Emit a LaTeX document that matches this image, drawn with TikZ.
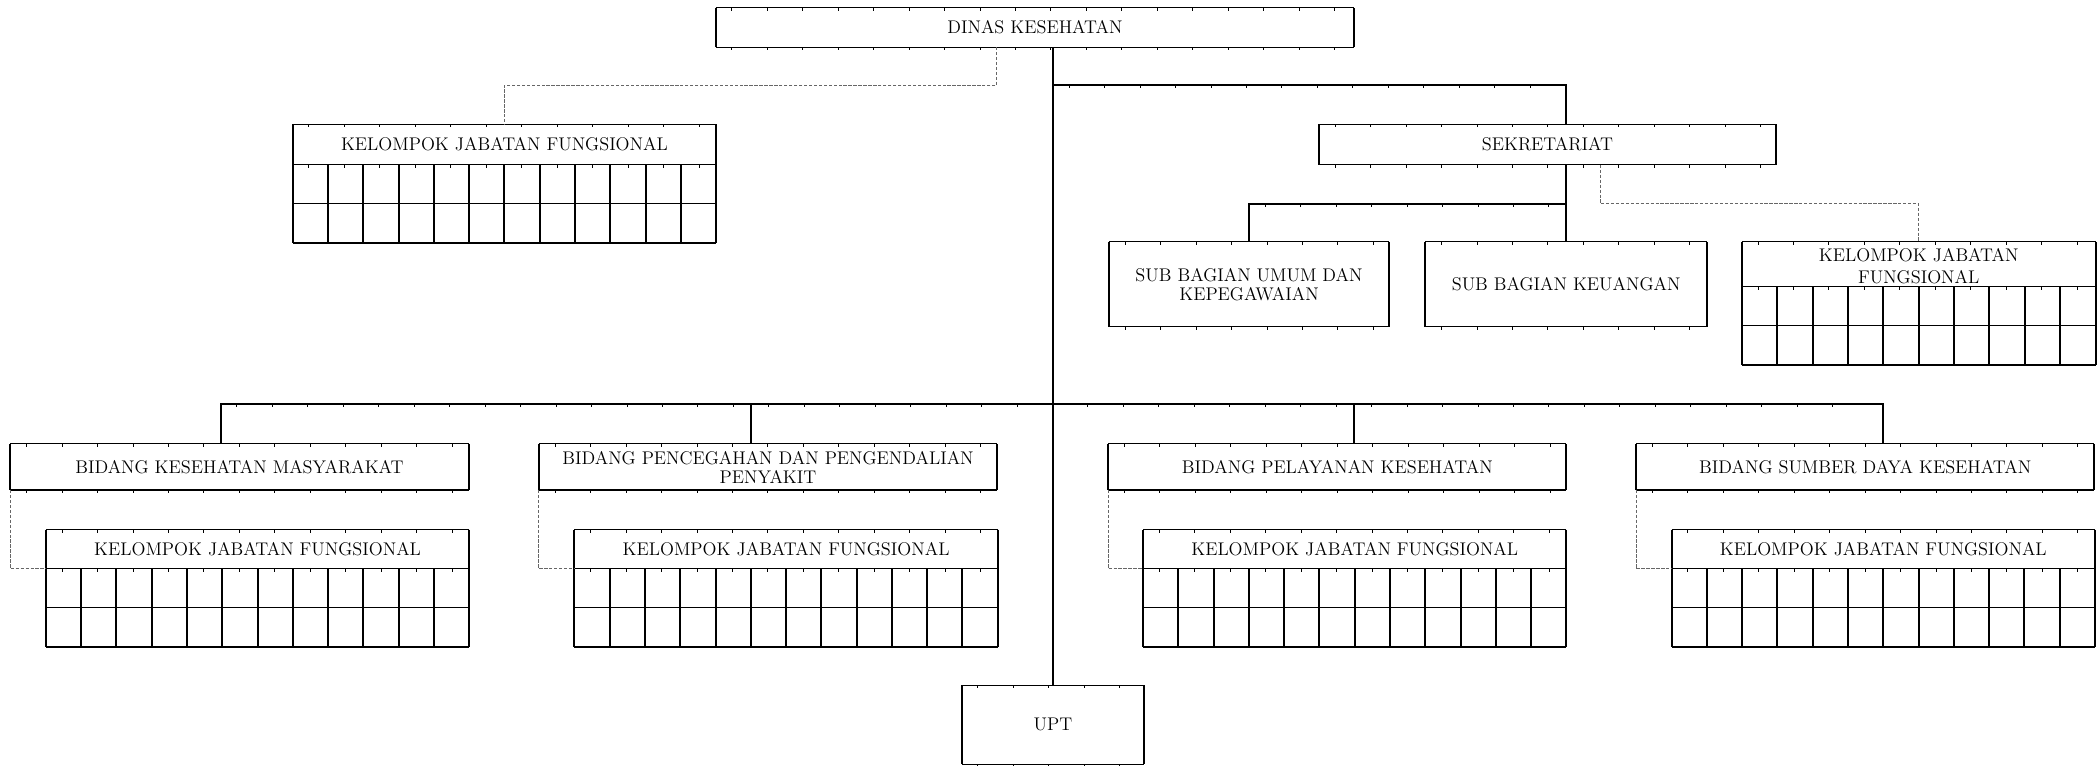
\documentclass[tikz,border=0pt]{standalone}
\usetikzlibrary{calc,decorations.markings}
\begin{document}
\begin{tikzpicture}[x=1pt,y=-1pt,
  txt/.style={font=\fontsize{13.7}{14.2}\selectfont},
  ticks/.style={postaction={decorate},
    decoration={markings, mark=between positions 12pt and -4pt step 26.5pt with {\draw[line width=0.5pt] (0,0) -- (0,-2.2pt);}}},
  hedge/.style={line width=0.8pt, ticks},
  vedge/.style={line width=1.5pt},
  box/.style={rectangle, inner sep=0pt, align=center, txt,
    append after command={\pgfextra{\let\orgbox\tikzlastnode}
      (\orgbox.north west) edge[hedge] (\orgbox.north east)
      (\orgbox.south west) edge[hedge] (\orgbox.south east)
      (\orgbox.north west) edge[vedge] (\orgbox.south west)
      (\orgbox.north east) edge[vedge] (\orgbox.south east)}},
  link/.style={line width=1.5pt},
  aux/.style={draw=black!60, line width=0.8pt, dash pattern=on 2.5pt off 1.2pt},
  cellv/.style={line width=1.5pt},
  cellh/.style={line width=1.1pt},
]
\useasboundingbox (0,0) rectangle (1568,572);

% head office and its staff group
\node[box, minimum width=477pt, minimum height=29pt] (dinas) at (773.5,20.5) {DINAS KESEHATAN};
\node[box, minimum width=316pt, minimum height=30pt] (kjfa) at (377,108) {KELOMPOK JABATAN FUNGSIONAL};

% secretariat branch
\node[box, minimum width=341pt, minimum height=30pt] (sek) at (1156.5,108) {SEKRETARIAT};
\node[box, minimum width=209pt, minimum height=63pt] (umum) at (933.5,212.5) {SUB BAGIAN UMUM DAN\\KEPEGAWAIAN};
\node[box, minimum width=210pt, minimum height=63pt] (keu) at (1170.5,212.5) {SUB BAGIAN KEUANGAN};
\node[box, minimum width=264pt, minimum height=33pt,
  label={[name=kjfbtext, txt, font=\fontsize{13.7}{16.2}\selectfont, align=center, inner sep=0pt, yshift=-1.5pt]center:{KELOMPOK JABATAN\\FUNGSIONAL}}]
  (kjfb) at (1434,197.5) {};

% departments
\node[box, minimum width=342pt, minimum height=34pt] (bkm) at (179,349) {BIDANG KESEHATAN MASYARAKAT};
\node[box, minimum width=342pt, minimum height=34pt] (bp2p) at (574,349) {BIDANG PENCEGAHAN DAN PENGENDALIAN\\PENYAKIT};
\node[box, minimum width=342pt, minimum height=34pt] (bpel) at (999.5,349) {BIDANG PELAYANAN KESEHATAN};
\node[box, minimum width=342pt, minimum height=34pt] (bsdk) at (1394,349) {BIDANG SUMBER DAYA KESEHATAN};

% functional groups under the departments
\node[box, minimum width=316pt, minimum height=29pt] (kkm) at (192.5,410.5) {KELOMPOK JABATAN FUNGSIONAL};
\node[box, minimum width=316pt, minimum height=29pt] (kp2p) at (587.5,410.5) {KELOMPOK JABATAN FUNGSIONAL};
\node[box, minimum width=316pt, minimum height=29pt] (kpel) at (1012.5,410.5) {KELOMPOK JABATAN FUNGSIONAL};
\node[box, minimum width=316pt, minimum height=29pt] (ksdk) at (1407.5,410.5) {KELOMPOK JABATAN FUNGSIONAL};

% technical unit
\node[box, minimum width=136pt, minimum height=58.5pt] (upt) at (787,541.75) {UPT};

% two rows of empty cells below each functional group
\foreach \k/\n in {kjfa/12,kjfb/10,kkm/12,kp2p/12,kpel/12,ksdk/12}{
  \draw[cellh] ($(\k.south west)+(0,29)$) -- ($(\k.south east)+(0,29)$);
  \draw[cellh] ($(\k.south west)+(0,58.5)$) -- ($(\k.south east)+(0,58.5)$);
  \foreach \i in {0,...,\n}
    \draw[cellv] ($(\k.south west)!\i/\n!(\k.south east)$) -- ++(0,58.5);
}

% line of command
\draw[link] (dinas.south -| upt.north) -- (upt.north);
\draw[link] (dinas.south -| upt.north) ++(0,28.5) coordinate (j1) -| (sek.north -| keu.north);
\draw[link] (sek.south -| keu.north) -- (keu.north);
\draw[link] (sek.south -| keu.north) ++(0,29) coordinate (j2) -| (umum.north);
\draw[link] ([xshift=-14pt]bkm.north) -- ++(0,-30) coordinate (j3) -| ([xshift=13pt]bsdk.north);
\draw[link] ([xshift=-13pt]bp2p.north) -- ++(0,-30);
\draw[link] ([xshift=12.5pt]bpel.north) -- ++(0,-30);
\path[ticks] (j1) -- (j1 -| keu.north);
\path[ticks] (j2 -| umum.north) -- (j2);
\path[ticks] (j3) -- (j3 -| bsdk.north);

% line of coordination
\draw[aux] ([xshift=-28.5pt]dinas.south) -- ++(0,28.5) -| (kjfa.north);
\draw[aux] ([xshift=39.5pt]sek.south) -- ++(0,29) -| (kjfb.north);
\foreach \b/\k in {bkm/kkm, bp2p/kp2p, bpel/kpel, bsdk/ksdk}
  \draw[aux] (\b.south west) |- (\k.south west);
\end{tikzpicture}
\end{document}
